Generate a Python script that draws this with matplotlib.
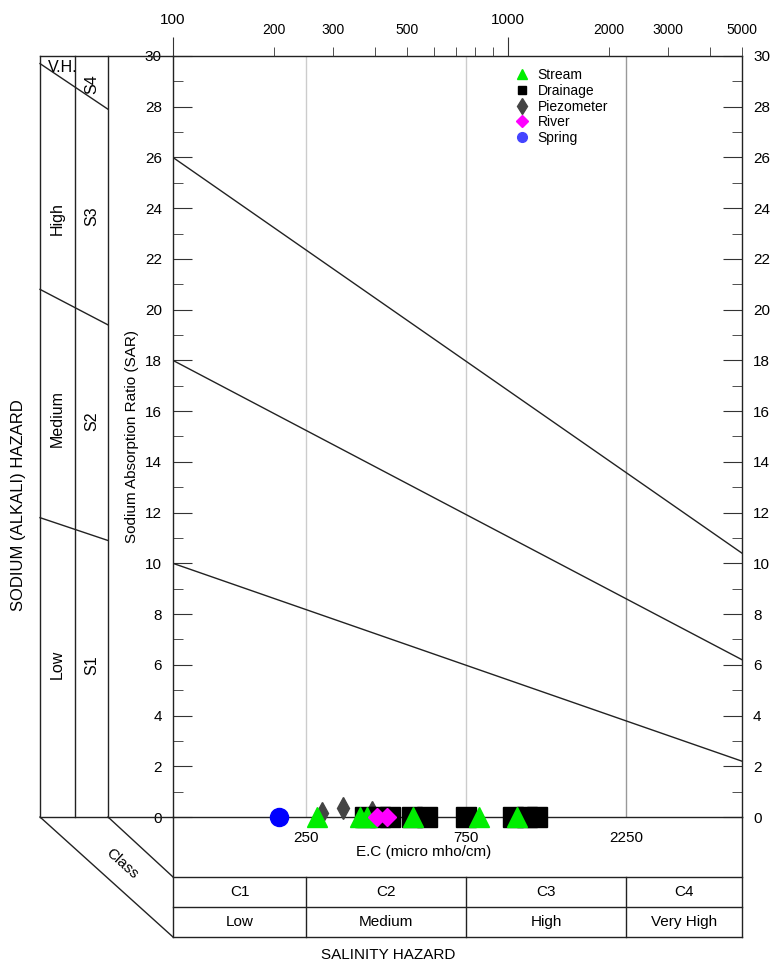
import matplotlib
matplotlib.use("Agg")
import matplotlib.pyplot as plt
from matplotlib.lines import Line2D
from matplotlib.ticker import NullLocator
from matplotlib.transforms import blended_transform_factory

plt.rcParams["font.family"] = ["Liberation Sans", "DejaVu Sans"]

# samples: EC (micro mho/cm) and SAR
stream_ec = [269, 361, 379, 520, 819, 1064]
stream_sar = [0, 0, 0, 0, 0, 0]
drainage_ec = [374, 415, 444, 517, 573, 750, 1035, 1140, 1221]
drainage_sar = [0, 0, 0, 0, 0, 0, 0, 0, 0]
piezo_ec = [279, 322, 393]
piezo_sar = [0.15, 0.35, 0.2]
river_ec = [406, 435]
river_sar = [0, 0]
spring_ec = [207]
spring_sar = [0]

# sodium hazard boundaries (SAR at EC=100 and EC=5000)
line_ec = [100, 5000]
s1_s2 = [10, 2.2]
s2_s3 = [18, 6.2]
s3_s4 = [26, 10.4]

# salinity classes
class_bounds = [100, 250, 750, 2250, 5000]
class_names = ["C1", "C2", "C3", "C4"]
class_levels = ["Low", "Medium", "High", "Very High"]

# sodium classes on the left panel
sodium_names = ["S1", "S2", "S3", "S4"]
sodium_levels = ["Low", "Medium", "High", "V.H."]
sodium_outer = [11.8, 20.8, 29.7]
sodium_inner = [10.9, 19.4, 27.9]
sodium_level_y = [6.0, 15.7, 23.6, 29.55]
sodium_name_y = [6.0, 15.6, 23.7, 28.9]

top_major = [100, 1000]
top_minor = [200, 300, 400, 500, 600, 700, 800, 900, 2000, 3000, 4000, 5000]
top_minor_labels = ["200", "300", "", "500", "", "", "", "", "2000", "3000", "", "5000"]

LINE = "#222222"

fig = plt.figure(figsize=(7.77, 9.63), dpi=100)
ax = fig.add_axes([173 / 777, 146 / 963, 569 / 777, 761 / 963])
ax.set_facecolor("none")
ax.set_xscale("log")
ax.set_xlim(100, 5000)
ax.set_ylim(0, 30)

for sp in ax.spines.values():
    sp.set_color(LINE)
    sp.set_linewidth(1.0)

# y axis on both sides
ax.set_yticks(range(0, 31, 2))
ax.set_yticks(range(1, 30, 2), minor=True)
ax.tick_params(axis="y", which="both", direction="in", left=True, right=True,
               labelleft=True, labelright=True, labelsize=11, pad=8, color="#333333")
ax.tick_params(axis="y", which="major", length=13.7)
ax.tick_params(axis="y", which="minor", length=7)

# bottom x axis: class boundaries only
ax.set_xticks(class_bounds[1:-1], labels=[str(v) for v in class_bounds[1:-1]])
ax.xaxis.set_minor_locator(NullLocator())
ax.tick_params(axis="x", length=0, pad=10, labelsize=11)
ax.set_ylabel("Sodium Absorption Ratio (SAR)", fontsize=11, labelpad=4)

for i, b in enumerate(class_bounds[1:-1]):
    ax.axvline(b, color="#999999" if i == 2 else "#cccccc", lw=1, zorder=1)

# top x axis (log EC)
ax2 = ax.twiny()
ax2.set_xscale("log")
ax2.set_xlim(100, 5000)
ax2.set_xticks(top_major, labels=[str(v) for v in top_major])
ax2.set_xticks(top_minor, labels=top_minor_labels, minor=True)
ax2.tick_params(axis="x", which="both", direction="out", pad=7, color="#333333")
ax2.tick_params(axis="x", which="major", length=13.7, labelsize=11)
ax2.tick_params(axis="x", which="minor", length=6.5, labelsize=10)
for sp in ax2.spines.values():
    sp.set_visible(False)

# hazard lines
for sar in (s1_s2, s2_s3, s3_s4):
    ax.plot(line_ec, sar, color=LINE, lw=1, zorder=2)

# samples
ax.plot(piezo_ec, piezo_sar, ls="none", marker="d", ms=11, color="#444444", clip_on=False, zorder=3)
ax.plot(drainage_ec, drainage_sar, ls="none", marker="s", ms=14, color="black", clip_on=False, zorder=4)
ax.plot(stream_ec, stream_sar, ls="none", marker="^", ms=14, color="#00ee00", clip_on=False, zorder=5)
ax.plot(river_ec, river_sar, ls="none", marker="D", ms=9, color="#ff00ff", clip_on=False, zorder=6)
ax.plot(spring_ec, spring_sar, ls="none", marker="o", ms=13, color="#0000ff", clip_on=False, zorder=6)

handles = [
    Line2D([], [], ls="none", marker="^", ms=7, color="#00ee00", label="Stream"),
    Line2D([], [], ls="none", marker="s", ms=6, color="black", label="Drainage"),
    Line2D([], [], ls="none", marker="d", ms=8, color="#444444", label="Piezometer"),
    Line2D([], [], ls="none", marker="D", ms=6, color="#ff00ff", label="River"),
    Line2D([], [], ls="none", marker="o", ms=7, color="#4444ff", label="Spring"),
]
ax.legend(handles=handles, loc="upper left", bbox_to_anchor=(0.602, 0.984), frameon=False,
          fontsize=10, handlelength=1.0, handletextpad=0.6, labelspacing=0.12,
          borderaxespad=0, borderpad=0)

# left panel (sodium hazard)
col0, col1, col2 = -0.2337, -0.1722, -0.1142
row0, row1, row2 = -0.0788, -0.1189, -0.1577
kw = dict(color=LINE, lw=1, clip_on=False)
ta = ax.transAxes
for c in (col0, col1, col2):
    ax.plot([c, c], [0, 1], transform=ta, **kw)
ax.plot([col0, 0], [1, 1], transform=ta, **kw)
ax.plot([col0, 0], [0, 0], transform=ta, **kw)
ax.plot([0, 0], [0, row2], transform=ta, **kw)
ax.plot([1, 1], [0, row2], transform=ta, **kw)

ty = blended_transform_factory(ax.transAxes, ax.transData)
for yo, yi in zip(sodium_outer, sodium_inner):
    ax.plot([col0, col2], [yo, yi], transform=ty, **kw)

xl = (col0 + col1) / 2
xn = (col1 + col2) / 2
for lev, name, yl, yn in zip(sodium_levels, sodium_names, sodium_level_y, sodium_name_y):
    if lev == "V.H.":
        ax.text(xl + 0.01, yl, lev, transform=ty, ha="center", va="center", fontsize=11.5)
    else:
        ax.text(xl, yl, lev, transform=ty, rotation=90, ha="center", va="center", fontsize=11.5)
    ax.text(xn, yn, name, transform=ty, rotation=90, ha="center", va="center", fontsize=11.5)

ax.text(-0.2724, 0.41, "SODIUM (ALKALI) HAZARD", transform=ta, rotation=90,
        ha="center", va="center", fontsize=12)

# bottom panel (salinity hazard)
ax.plot([col0, 0], [0, row2], transform=ta, **kw)
ax.plot([col2, 0], [0, row0], transform=ta, **kw)
ax.text(-0.0896, -0.0618, "Class", transform=ta, rotation=-42, ha="center", va="center", fontsize=11)

tx = blended_transform_factory(ax.transData, ax.transAxes)
for r in (row0, row1, row2):
    ax.plot([class_bounds[0], class_bounds[-1]], [r, r], transform=tx, **kw)
for b in class_bounds[1:-1]:
    ax.plot([b, b], [row0, row2], transform=tx, **kw)
for i in range(len(class_names)):
    xc = (class_bounds[i] * class_bounds[i + 1]) ** 0.5
    ax.text(xc, (row0 + row1) / 2, class_names[i], transform=tx, ha="center", va="center", fontsize=11)
    ax.text(xc, (row1 + row2) / 2, class_levels[i], transform=tx, ha="center", va="center", fontsize=11)

ax.text(0.441, -0.046, "E.C (micro mho/cm)", transform=ta, ha="center", va="center", fontsize=11)
ax.text(0.378, -0.181, "SALINITY HAZARD", transform=ta, ha="center", va="center", fontsize=11)

fig.savefig("out.png", dpi=100)
